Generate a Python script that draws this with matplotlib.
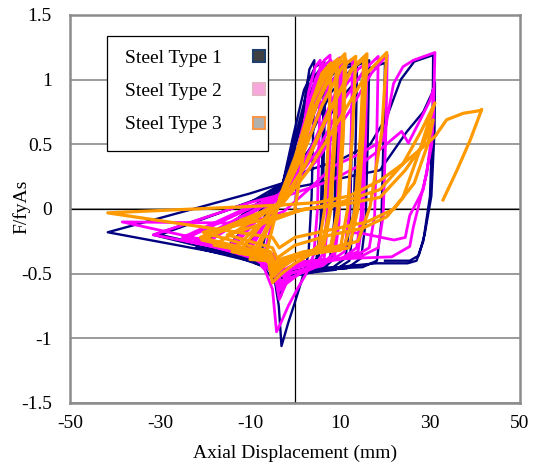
import matplotlib
matplotlib.use('Agg')
import matplotlib.pyplot as plt
from matplotlib.lines import Line2D
from matplotlib.patches import Rectangle

# (axial displacement mm, F/fyAs)
steel1 = [
    (0.0, 0.0), (1.0, 0.45), (2.2, 0.85), (3.2, 1.08), (4.3, 1.15),
    (4.1, 0.7), (3.7, 0.1), (3.0, -0.35), (1.5, -0.55), (0.0, -0.72), (-1.5, -0.88), (-3.0, -1.06),
    (-3.6, -0.75), (-4.5, -0.55), (-8.0, -0.42),
    (-5.0, 0.05), (-2.7, 0.2), (-0.5, 0.55), (2.0, 0.92), (4.5, 1.1), (6.5, 1.14),
    (6.2, 0.6), (5.7, -0.1), (4.8, -0.38), (3.0, -0.45), (0.5, -0.48), (-2.0, -0.55), (-3.2, -0.68),
    (-4.0, -0.5), (-12.0, -0.36),
    (-2.5, 0.18), (0.0, 0.55), (3.0, 0.95), (5.5, 1.08), (6.8, 1.11),
    (6.5, 0.55), (6.0, -0.1), (5.2, -0.4), (3.5, -0.47), (1.0, -0.5), (-1.5, -0.52), (-3.0, -0.6),
    (-4.0, -0.47), (-11.0, -0.35),
    (-2.7, 0.2), (0.5, 0.6), (4.0, 0.95), (7.0, 1.1), (9.5, 1.14),
    (9.2, 0.6), (8.7, -0.1), (7.8, -0.38), (5.5, -0.45), (2.0, -0.47), (-1.0, -0.5), (-3.0, -0.62),
    (-4.2, -0.48), (-16.0, -0.33),
    (-2.5, 0.18), (1.0, 0.6), (4.5, 0.95), (7.5, 1.08), (9.8, 1.12),
    (9.5, 0.55), (9.0, -0.1), (8.2, -0.4), (6.0, -0.47), (2.5, -0.5), (-1.0, -0.52), (-2.8, -0.57),
    (-4.3, -0.45), (-15.0, -0.32),
    (-2.7, 0.2), (1.5, 0.55), (6.0, 0.95), (10.0, 1.1), (13.0, 1.13),
    (12.7, 0.6), (12.2, -0.1), (11.2, -0.38), (8.5, -0.45), (4.0, -0.46), (0.0, -0.48), (-2.8, -0.58),
    (-4.5, -0.45), (-22.0, -0.3),
    (-2.5, 0.18), (2.0, 0.55), (6.5, 0.93), (10.5, 1.08), (13.8, 1.12),
    (13.5, 0.55), (13.0, -0.1), (12.1, -0.4), (9.0, -0.47), (4.0, -0.49), (0.0, -0.5), (-2.6, -0.55),
    (-4.5, -0.43), (-20.0, -0.28),
    (-2.7, 0.2), (2.5, 0.5), (8.0, 0.9), (13.0, 1.1), (16.5, 1.15),
    (16.2, 0.6), (15.7, -0.1), (14.7, -0.38), (11.5, -0.46), (6.0, -0.47), (1.0, -0.47), (-2.5, -0.55),
    (-4.5, -0.43), (-31.5, -0.2),
    (-10.0, 0.05), (-2.7, 0.2), (3.0, 0.45), (10.0, 0.85), (16.0, 1.08), (20.0, 1.13),
    (19.7, 0.6), (19.2, -0.1), (18.2, -0.4), (15.0, -0.45), (8.0, -0.46), (2.0, -0.48), (-2.5, -0.52),
    (-4.5, -0.42), (-41.6, -0.18),
    (-10.0, 0.12), (-2.7, 0.2), (3.0, 0.3), (10.0, 0.38), (16.7, 0.5), (20.5, 0.72), (23.5, 1.0),
    (26.5, 1.14), (30.7, 1.19),
    (30.6, 0.7), (30.0, 0.1), (28.5, -0.25), (27.0, -0.4), (25.0, -0.42), (18.0, -0.42), (12.0, -0.44),
    (5.0, -0.47), (-0.5, -0.48), (-2.5, -0.52),
    (-4.5, -0.4), (-30.0, -0.2),
    (-2.7, 0.15), (5.0, 0.2), (12.0, 0.25), (18.9, 0.3), (24.9, 0.6), (28.5, 0.75), (30.5, 0.9), (31.1, 0.98),
    (31.0, 0.6), (30.3, 0.1), (28.8, -0.2), (27.5, -0.36), (25.5, -0.4), (20.0, -0.4),
]

steel2 = [
    (0.0, 0.0), (1.5, 0.5), (3.0, 0.9), (4.5, 1.1), (5.6, 1.15),
    (5.4, 0.6), (5.0, 0.0), (4.2, -0.35), (2.5, -0.5), (0.5, -0.62), (-1.5, -0.75), (-3.0, -0.87), (-4.1, -0.95),
    (-5.0, -0.62), (-6.7, -0.47), (-7.5, -0.44),
    (-4.0, 0.05), (-1.1, 0.22), (1.5, 0.6), (4.5, 1.0), (6.5, 1.15), (7.8, 1.19),
    (7.6, 0.6), (7.1, -0.05), (6.2, -0.35), (4.0, -0.45), (1.0, -0.5), (-2.0, -0.58), (-3.5, -0.7),
    (-4.5, -0.5), (-11.0, -0.33),
    (-1.0, 0.2), (1.8, 0.6), (4.8, 0.98), (6.8, 1.12), (8.0, 1.15),
    (7.8, 0.55), (7.3, -0.1), (6.5, -0.38), (4.0, -0.46), (1.0, -0.5), (-2.0, -0.55), (-3.6, -0.64),
    (-4.6, -0.47), (-10.0, -0.32),
    (-1.1, 0.22), (2.0, 0.6), (5.5, 0.97), (8.5, 1.13), (10.0, 1.17),
    (9.8, 0.6), (9.3, -0.05), (8.3, -0.35), (6.0, -0.43), (2.5, -0.46), (-1.0, -0.5), (-3.2, -0.62),
    (-4.5, -0.45), (-15.0, -0.3),
    (-1.2, 0.2), (2.5, 0.6), (6.0, 0.96), (9.0, 1.1), (10.6, 1.14),
    (10.3, 0.55), (9.8, -0.1), (8.8, -0.37), (6.0, -0.44), (2.0, -0.47), (-1.5, -0.5), (-3.3, -0.58),
    (-4.6, -0.43), (-14.0, -0.3),
    (-1.5, 0.18), (3.0, 0.55), (7.5, 0.95), (11.0, 1.12), (12.8, 1.16),
    (12.5, 0.6), (12.0, -0.05), (11.0, -0.33), (8.0, -0.4), (3.0, -0.43), (-1.0, -0.47), (-3.0, -0.57),
    (-4.5, -0.43), (-20.0, -0.27),
    (-1.5, 0.15), (4.0, 0.5), (9.0, 0.9), (13.0, 1.1), (15.5, 1.17),
    (15.2, 0.6), (14.7, -0.05), (13.7, -0.3), (10.5, -0.38), (5.0, -0.41), (0.0, -0.44), (-2.8, -0.52),
    (-4.5, -0.4), (-25.0, -0.24),
    (-1.8, 0.14), (4.5, 0.5), (10.0, 0.9), (14.0, 1.08), (16.0, 1.13),
    (15.7, 0.55), (15.1, -0.08), (14.0, -0.33), (10.0, -0.39), (4.0, -0.42), (-0.5, -0.45), (-3.0, -0.5),
    (-4.6, -0.39), (-22.0, -0.24),
    (-2.0, 0.12), (5.0, 0.45), (11.0, 0.85), (15.5, 1.08), (18.5, 1.18),
    (18.2, 0.6), (17.7, -0.05), (16.5, -0.3), (13.0, -0.37), (6.0, -0.4), (0.0, -0.42), (-2.8, -0.5),
    (-4.5, -0.38), (-31.5, -0.2),
    (-10.0, 0.05), (-2.0, 0.12), (5.0, 0.38), (12.0, 0.75), (17.0, 1.05), (20.5, 1.19),
    (20.2, 0.6), (19.6, -0.05), (18.5, -0.3), (15.0, -0.36), (8.0, -0.39), (1.0, -0.41), (-2.5, -0.48),
    (-4.5, -0.36), (-38.4, -0.1),
    (-10.0, -0.11), (-2.5, -0.02), (3.0, 0.15), (8.5, 0.33), (14.0, 0.42), (19.6, 0.53), (21.9, 0.97),
    (24.0, 1.1), (26.3, 1.15), (31.1, 1.21),
    (30.7, 0.66), (29.3, 0.28), (26.3, -0.14), (25.5, -0.29), (24.0, -0.32), (21.5, -0.37), (14.0, -0.38),
    (7.8, -0.39), (1.0, -0.41), (-2.5, -0.47),
    (-4.5, -0.35), (-25.0, -0.22),
    (-10.0, 0.02), (-2.0, 0.1), (8.0, 0.22), (14.0, 0.33), (18.9, 0.46), (23.7, 0.6), (25.2, 0.51),
    (28.0, 0.7), (30.0, 0.84), (30.8, 0.93),
    (30.4, 0.5), (28.5, 0.15), (25.5, -0.05), (24.5, -0.22), (22.0, -0.24), (15.1, -0.19), (12.0, -0.18),
]

steel3 = [
    (0.0, 0.0), (2.0, 0.45), (4.0, 0.85), (6.0, 1.05), (8.0, 1.13),
    (7.5, 0.6), (6.6, 0.0), (5.3, -0.28), (3.0, -0.36), (0.0, -0.42), (-3.0, -0.5), (-5.0, -0.57),
    (-5.8, -0.42), (-6.5, -0.36),
    (-3.3, 0.1), (0.0, 0.4), (3.5, 0.8), (7.0, 1.08), (9.5, 1.16),
    (9.0, 0.6), (8.0, 0.0), (6.5, -0.27), (4.0, -0.32), (0.5, -0.37), (-2.5, -0.44), (-4.5, -0.5),
    (-5.5, -0.4), (-10.0, -0.39),
    (-3.0, 0.08), (0.5, 0.42), (3.8, 0.82), (7.2, 1.06), (9.2, 1.12),
    (8.6, 0.55), (7.6, -0.03), (6.0, -0.28), (3.5, -0.33), (0.0, -0.38), (-2.8, -0.45), (-4.7, -0.52),
    (-5.6, -0.41), (-9.0, -0.37),
    (-3.3, 0.05), (0.5, 0.4), (4.5, 0.8), (8.5, 1.1), (11.1, 1.2),
    (10.5, 0.6), (9.5, 0.0), (8.0, -0.28), (5.0, -0.32), (1.0, -0.35), (-2.5, -0.42), (-4.5, -0.47),
    (-5.5, -0.38), (-14.0, -0.33),
    (-3.0, 0.06), (1.0, 0.42), (5.0, 0.82), (9.0, 1.1), (11.3, 1.16),
    (10.7, 0.55), (9.7, -0.02), (8.2, -0.3), (5.0, -0.34), (1.0, -0.37), (-2.5, -0.43), (-4.6, -0.49),
    (-5.5, -0.38), (-12.5, -0.34),
    (-3.0, 0.08), (1.5, 0.4), (6.0, 0.8), (10.5, 1.1), (13.5, 1.18),
    (12.8, 0.6), (11.7, 0.0), (10.0, -0.32), (6.0, -0.33), (1.5, -0.35), (-2.5, -0.4), (-4.5, -0.45),
    (-5.5, -0.36), (-18.0, -0.28),
    (-3.0, 0.05), (2.5, 0.35), (8.0, 0.78), (13.0, 1.1), (16.0, 1.2),
    (15.2, 0.6), (14.0, 0.0), (12.0, -0.3), (7.0, -0.33), (2.0, -0.35), (-2.5, -0.4), (-4.5, -0.43),
    (-5.5, -0.35), (-21.0, -0.22),
    (-3.2, 0.04), (2.0, 0.32), (7.5, 0.75), (12.5, 1.08), (15.3, 1.16),
    (14.5, 0.55), (13.2, -0.03), (11.0, -0.28), (6.0, -0.32), (1.0, -0.36), (-2.8, -0.42), (-4.8, -0.47),
    (-5.6, -0.36), (-20.7, -0.24),
    (-3.0, 0.03), (3.0, 0.3), (10.0, 0.7), (16.0, 1.05), (20.4, 1.21),
    (19.3, 0.6), (16.7, 0.02), (14.0, -0.25), (8.0, -0.3), (2.0, -0.33), (-2.5, -0.38), (-4.5, -0.41),
    (-5.5, -0.33), (-20.4, -0.18),
    (-7.8, -0.09), (0.0, -0.02), (10.0, 0.05), (18.9, 0.15), (24.0, 0.35), (28.0, 0.6), (31.1, 0.82),
    (29.5, 0.65), (27.8, 0.46), (24.0, 0.09), (20.4, -0.06), (15.0, -0.15), (8.0, -0.2), (0.0, -0.28),
    (-4.0, -0.38), (-5.0, -0.3), (-15.0, -0.2),
    (-6.0, -0.1), (2.0, 0.0), (10.0, 0.03), (18.9, 0.09), (24.5, 0.3), (28.5, 0.5), (30.7, 0.69),
    (29.5, 0.5), (26.5, 0.2), (22.0, 0.0), (16.0, -0.1), (8.0, -0.16), (0.0, -0.22), (-3.5, -0.3),
    (-5.0, -0.22), (-41.6, -0.03),
    (-3.3, 0.03), (5.0, 0.05), (12.0, 0.1), (18.9, 0.22), (24.0, 0.35), (28.5, 0.48), (31.1, 0.56),
    (33.7, 0.69), (37.4, 0.74), (41.0, 0.76), (41.5, 0.77),
    (38.9, 0.53), (36.0, 0.3), (32.9, 0.07),
]

labels = ['Steel Type 1', 'Steel Type 2', 'Steel Type 3']
line_colors = ['#000080', '#FF00FF', '#FF9900']
marker_faces = ['#404040', '#F7A6DE', '#B0B0B0']
marker_edges = ['#1F3F6F', '#E8B4C8', '#F79646']

plt.rcParams['font.family'] = 'Liberation Serif'
plt.rcParams['font.size'] = 14

fig = plt.figure(figsize=(5.33, 4.70), dpi=100)
ax = fig.add_axes([0.1313, 0.1426, 0.8443, 0.8255])

ax.axhline(0, color='black', lw=0.9, zorder=1)
ax.axvline(0, color='black', lw=0.9, zorder=1)

for data, c, w in zip([steel1, steel2, steel3], line_colors, [1.7, 2.0, 2.3]):
    x = [p[0] for p in data]
    y = [p[1] for p in data]
    ax.plot(x, y, color=c, lw=w, zorder=2, solid_joinstyle='round')

ax.set_xlim(-50, 50)
ax.set_ylim(-1.5, 1.5)
ax.set_xticks([-50, -30, -10, 10, 30, 50])
ax.set_yticks([-1.5, -1, -0.5, 0, 0.5, 1, 1.5])
ax.set_yticklabels(['-1.5', '-1', '-0.5', '0', '0.5', '1', '1.5'])
ax.set_xticklabels(['-50', '-30', '-10', '10', '30', '50'])
ax.tick_params(length=0)
ax.tick_params(axis='y', pad=13)
ax.tick_params(axis='x', pad=9)
ax.grid(axis='y', color='#808080', lw=1.1, zorder=0)
ax.set_axisbelow(True)
for s in ax.spines.values():
    s.set_color('#8C8C8C')
    s.set_linewidth(1.8)

ax.set_xlabel('Axial Displacement (mm)')
ax.set_ylabel('F/fyAs')
ax.xaxis.set_label_coords(0.5, -0.108)
ax.yaxis.set_label_coords(-0.089, 0.505)

# legend box drawn separately so the padding matches the Excel layout
ax.add_patch(Rectangle((0.0822, 0.6495), 0.3578, 0.2964, transform=ax.transAxes,
                       facecolor='white', edgecolor='black', lw=0.9, zorder=5))
handles = [Line2D([], [], ls='none', marker='s', markersize=8, markerfacecolor=f,
                  markeredgecolor=e, markeredgewidth=1.5) for f, e in zip(marker_faces, marker_edges)]
leg = ax.legend(handles, labels, loc='upper left', bbox_to_anchor=(0.1222, 0.911), borderaxespad=0,
                markerfirst=False, handlelength=0.8, handletextpad=1.5, labelspacing=0.8,
                borderpad=0, frameon=False)
leg.set_zorder(6)

plt.savefig('out.png')
plt.close(fig)
